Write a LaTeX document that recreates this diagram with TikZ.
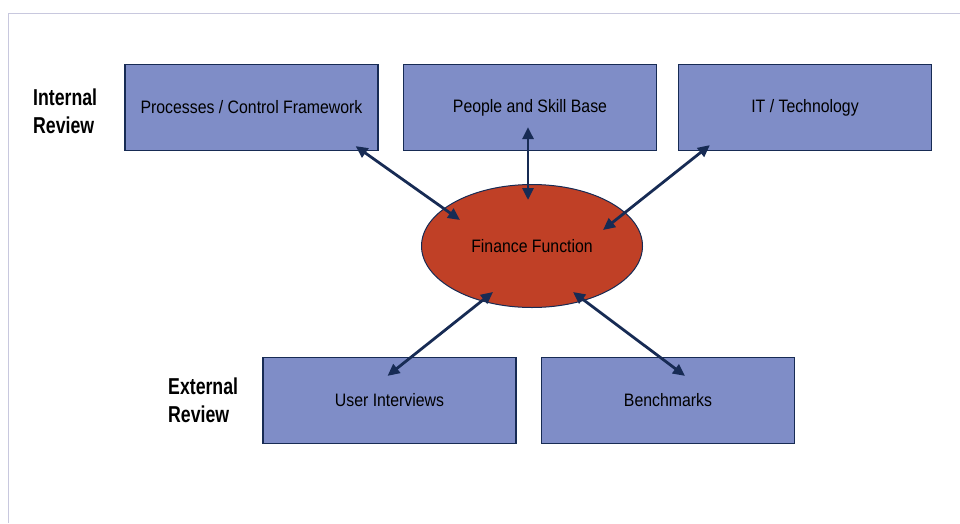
\documentclass[tikz,border=0pt]{standalone}
\usepackage{fontspec}
\setmainfont{Liberation Sans}[FakeStretch=0.88]
\newfontfamily\headfont{Liberation Sans}[FakeStretch=0.77]
\usetikzlibrary{arrows.meta}
\usetikzlibrary{shapes}

\definecolor{boxblue}{RGB}{127,141,199}
\definecolor{navy}{RGB}{23,43,84}
\definecolor{rust}{RGB}{192,64,38}
\definecolor{framegray}{RGB}{200,200,222}

\begin{document}
\begin{tikzpicture}[x=1pt, y=-1pt, font=\fontsize{18}{21}\selectfont]
	\tikzstyle{boxStyle}=[draw=navy, fill=boxblue, line width=1.2pt, minimum width=253pt, minimum height=86pt, inner sep=0pt]
	\tikzstyle{headStyle}=[font=\headfont\bfseries\fontsize{23}{28}\selectfont, align=left, inner sep=0pt, anchor=west]
	\tikzstyle{linkStyle}=[draw=navy, line width=2.8pt, {Triangle[length=12pt,width=11pt]}-{Triangle[length=12pt,width=11pt]}]
	\useasboundingbox (0,0) rectangle (960,523);
	\draw[framegray, line width=1.5pt] (8.5,523) -- (8.5,13.5) -- (960,13.5);
	% review groups
	\node[headStyle] (internal) at (33,111) {Internal\\Review};
	\node[headStyle] (external) at (168,400) {External\\Review};
	% areas under review
	\node[boxStyle] (proc) at (251.5,107.5) {Processes / Control Framework};
	\node[boxStyle] (people) at (530,107.5) {People and Skill Base};
	\node[boxStyle] (it) at (805,107.5) {IT / Technology};
	\node[boxStyle] (user) at (389.5,400.5) {User Interviews};
	\node[boxStyle] (bench) at (668,400.5) {Benchmarks};
	\node[ellipse, draw=navy, fill=rust, line width=1pt, minimum width=221pt, minimum height=123pt] (ff) at (532,246) {Finance Function};
	% links to the finance function
	\draw[linkStyle] ([shift={(-23,-5)}]proc.south east) -- ([shift={(-72,-26)}]ff.center);
	\draw[linkStyle] ([shift={(-2,-24)}]people.south) -- ([shift={(-4,-46)}]ff.center);
	\draw[linkStyle] ([shift={(32,-6)}]it.south west) -- ([shift={(71,-16)}]ff.center);
	\draw[linkStyle] ([shift={(-2,19)}]user.north) -- ([shift={(-39,46)}]ff.center);
	\draw[linkStyle] ([shift={(17,19)}]bench.north) -- ([shift={(41,46)}]ff.center);
\end{tikzpicture}
\end{document}
